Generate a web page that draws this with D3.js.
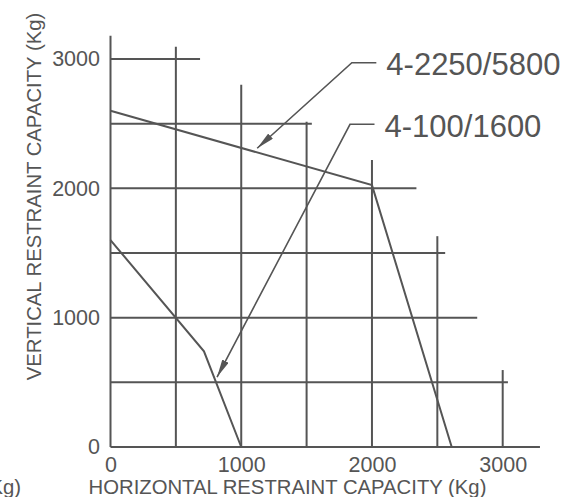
<!DOCTYPE html>
<html>
<head>
<meta charset="utf-8">
<script src="https://cdnjs.cloudflare.com/ajax/libs/d3/7.8.5/d3.min.js"></script>
<style>
body { margin: 0; background: #fff; }
text { font-family: "Liberation Sans", Arial, sans-serif; fill: #555; }
.grid, .axis-line { stroke: #555; stroke-width: 2; }
.curve { fill: none; stroke: #555; stroke-width: 2; }
.leader { fill: none; stroke: #555; stroke-width: 1.6; }
</style>
</head>
<body>
<script>
// tick labels
var xTicks = [0, 1000, 2000, 3000]
var yTicks = [0, 1000, 2000, 3000]
// grid lines (value, how far each one runs along the other axis)
var gridX = [500, 1000, 1500, 2000, 2500, 3000]
var gridXTop = [3095, 2800, 2515, 2220, 1630, 595]
var gridY = [500, 1000, 1500, 2000, 2500, 3000]
var gridYEnd = [3040, 2805, 2560, 2340, 1540, 685]
var axisMaxX = 3285
var axisMaxY = 3180
// capacity curves
var curveLarge = [[0, 2600], [2000, 2025], [2610, 0]]
var curveSmall = [[0, 1600], [715, 740], [1000, 0]]
// callouts
var labels = ['4-2250/5800', '4-100/1600']
var labelTips = [[1122, 2310], [815, 541]]
var labelElbows = [[1846, 2971], [1832, 2495]]

var width = 568
var height = 497

var x = d3.scaleLinear()
    .domain([0, 3000])
    .range([110.5, 502.7])

var y = d3.scaleLinear()
    .domain([0, 3000])
    .range([447, 59])

var svg = d3.select('body').append('svg')
    .attr('width', width)
    .attr('height', height)

svg.append('defs').append('marker')
    .attr('id', 'arrow')
    .attr('markerUnits', 'userSpaceOnUse')
    .attr('viewBox', '0 0 18 7')
    .attr('refX', 18)
    .attr('refY', 3.5)
    .attr('markerWidth', 18)
    .attr('markerHeight', 7)
    .attr('orient', 'auto')
    .append('path')
    .attr('d', 'M0,0 L18,3.5 L0,7 Z')
    .attr('fill', '#555')

// grid
svg.selectAll('.gx')
    .data(gridX)
    .enter().append('line')
    .attr('class', 'grid')
    .attr('x1', function(d){ return x(d) })
    .attr('x2', function(d){ return x(d) })
    .attr('y1', y(0))
    .attr('y2', function(d, i){ return y(gridXTop[i]) })

svg.selectAll('.gy')
    .data(gridY)
    .enter().append('line')
    .attr('class', 'grid')
    .attr('y1', function(d){ return y(d) })
    .attr('y2', function(d){ return y(d) })
    .attr('x1', x(0))
    .attr('x2', function(d, i){ return x(gridYEnd[i]) })

// axis lines
svg.append('line')
    .attr('class', 'axis-line')
    .attr('x1', x(0)).attr('x2', x(axisMaxX))
    .attr('y1', y(0)).attr('y2', y(0))
svg.append('line')
    .attr('class', 'axis-line')
    .attr('x1', x(0)).attr('x2', x(0))
    .attr('y1', y(0)).attr('y2', y(axisMaxY))

// tick labels
var xAxisG = svg.append('g')
    .attr('transform', 'translate(0,' + y(0) + ')')
    .call(d3.axisBottom(x).tickValues(xTicks).tickSize(0).tickPadding(10).tickFormat(d3.format('d')))
var yAxisG = svg.append('g')
    .attr('transform', 'translate(' + x(0) + ',0)')
    .call(d3.axisLeft(y).tickValues(yTicks).tickSize(0).tickPadding(10.5).tickFormat(d3.format('d')))
;[xAxisG, yAxisG].forEach(function(g){
    g.select('.domain').remove()
    g.attr('font-size', null).attr('font-family', null)
    g.selectAll('text').style('font-size', '21.5px').attr('fill', '#555')
})

// curves
var line = d3.line()
    .x(function(d){ return x(d[0]) })
    .y(function(d){ return y(d[1]) })

svg.append('path').attr('class', 'curve').attr('d', line(curveLarge))
svg.append('path').attr('class', 'curve').attr('d', line(curveSmall))

// callouts
labels.forEach(function(lab, i){
    var ex = x(labelElbows[i][0]), ey = y(labelElbows[i][1])
    svg.append('path')
        .attr('class', 'leader')
        .attr('d', 'M' + (ex + 24.5) + ',' + ey + 'L' + ex + ',' + ey +
            'L' + x(labelTips[i][0]) + ',' + y(labelTips[i][1]))
        .attr('marker-end', 'url(#arrow)')
    svg.append('text')
        .attr('x', ex + 34.5)
        .attr('y', ey + 1.5)
        .attr('dy', '0.35em')
        .style('font-size', '31px')
        .text(lab)
})

// axis titles
svg.append('text')
    .attr('x', 287.5)
    .attr('y', 494)
    .attr('text-anchor', 'middle')
    .style('font-size', '20.3px')
    .text('HORIZONTAL RESTRAINT CAPACITY (Kg)')

svg.append('text')
    .attr('transform', 'translate(41,196.5) rotate(-90)')
    .attr('text-anchor', 'middle')
    .style('font-size', '20.3px')
    .text('VERTICAL RESTRAINT CAPACITY (Kg)')

// clipped fragment at the lower left edge (cut off in the original too)
svg.append('text')
    .attr('x', 21)
    .attr('y', 494)
    .attr('text-anchor', 'end')
    .style('font-size', '20.3px')
    .text('(Kg)')
</script>
</body>
</html>
